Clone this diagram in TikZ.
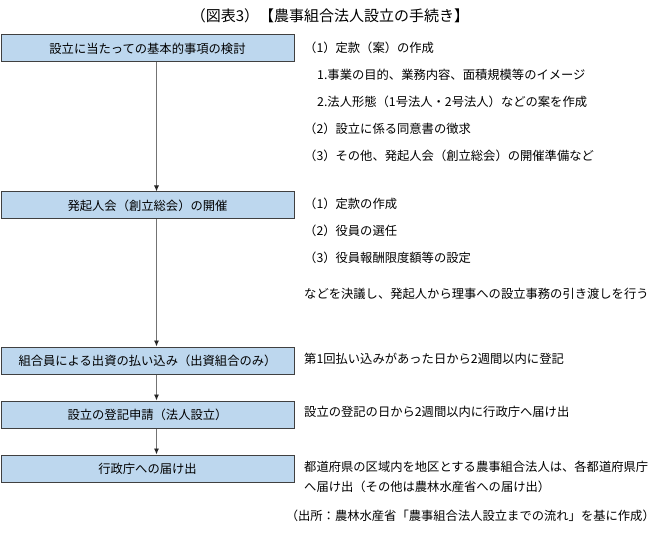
\documentclass[tikz,border=0pt]{standalone}
\usepackage{fontspec}
\setmainfont{Noto Sans CJK JP}
\usepackage{xcolor}
\usepackage{tikz}
\usetikzlibrary{positioning}
\usetikzlibrary{arrows.meta}
\definecolor{boxblue}{HTML}{BDD7EE}
\tikzset{
  -{Latex[length=6pt, width=5pt, color=black!85]},
  stepbox/.style = {rectangle, draw=black!75, fill=boxblue, line width=1pt,
   minimum width=293pt, minimum height=27pt, inner sep=0pt},
  flow/.style = {draw=black!55, line width=0.9pt},
  note/.style = {anchor=west, inner sep=0pt, align=left},
}

\begin{document}
\begin{tikzpicture}[x=1pt, y=-1pt, font=\fontsize{12.3}{20}\selectfont]
  \useasboundingbox (0,0) rectangle (660,534);
  \node (title) at (330,16) [font=\fontsize{15}{18}\selectfont] {（図表3）【農事組合法人設立の手続き】};
  % steps
  \node (b1) at (147.5,48.5) [stepbox] {設立に当たっての基本的事項の検討};
  \node (b2) [stepbox, below = 129pt of b1] {発起人会（創立総会）の開催};
  \node (b3) [stepbox, below = 127pt of b2] {組合員による出資の払い込み（出資組合のみ）};
  \node (b4) [stepbox, below = 26pt of b3] {設立の登記申請（法人設立）};
  \node (b5) [stepbox, below = 26pt of b4] {行政庁への届け出};
  \path ([xshift=9pt]b1.south) edge[flow] ([xshift=9pt]b2.north);
  \path ([xshift=9pt]b2.south) edge[flow] ([xshift=9pt]b3.north);
  \path ([xshift=9pt]b3.south) edge[flow] ([xshift=9pt]b4.north);
  \path ([xshift=9pt]b4.south) edge[flow] ([xshift=9pt]b5.north);
  % notes
  \node (n11) at (304,48)  [note] {（1）定款（案）の作成};
  \node (n12) at (317,75)  [note] {1.事業の目的、業務内容、面積規模等のイメージ};
  \node (n13) at (317,102) [note] {2.法人形態（1号法人・2号法人）などの案を作成};
  \node (n14) at (304,129) [note] {（2）設立に係る同意書の徴求};
  \node (n15) at (304,156) [note] {（3）その他、発起人会（創立総会）の開催準備など};
  \node (n21) at (304,204) [note] {（1）定款の作成};
  \node (n22) at (304,231) [note] {（2）役員の選任};
  \node (n23) at (304,258) [note] {（3）役員報酬限度額等の設定};
  \node (n24) at (304,294) [note] {などを決議し、発起人から理事への設立事務の引き渡しを行う};
  \node (n3)  at (304,359) [note] {第1回払い込みがあった日から2週間以内に登記};
  \node (n4)  at (304,412) [note] {設立の登記の日から2週間以内に行政庁へ届け出};
  \node (n5)  at (304,477) [note] {都道府県の区域内を地区とする農事組合法人は、各都道府県庁\\へ届け出（その他は農林水産省への届け出）};
  \node (src) at (655,516) [anchor=east, inner sep=0pt] {（出所：農林水産省「農事組合法人設立までの流れ」を基に作成）};
\end{tikzpicture}
\end{document}
